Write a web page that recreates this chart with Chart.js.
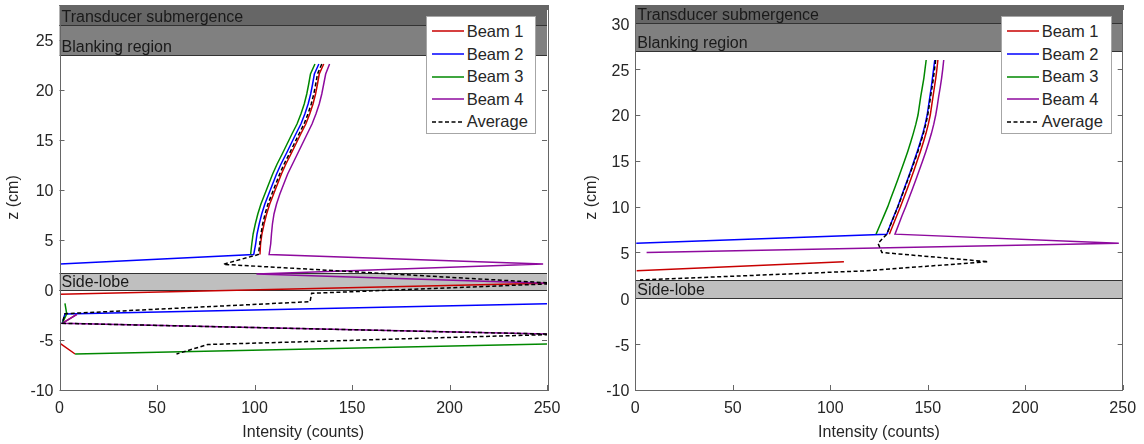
<!DOCTYPE html>
<html>
<head>
<meta charset="utf-8">
<script src="https://cdn.jsdelivr.net/npm/chart.js@4.4.1/dist/chart.umd.min.js"></script>
<style>
  body { margin:0; width:1144px; height:444px; position:relative; background:#fff; overflow:hidden; }
  canvas { position:absolute; top:0; }
  .legend { position:absolute; box-sizing:border-box; height:118px; border:1px solid #a6a6a6; background:#fff;
            font:16.5px 'Liberation Sans', Arial, sans-serif; color:#262626; padding-top:3.5px; }
  .legend .row { display:flex; align-items:center; height:22.6px; }
  .legend svg { margin-left:5px; margin-right:3px; }
</style>
</head>
<body>
<canvas id="chartL" width="572" height="444" style="left:0"></canvas>
<canvas id="chartR" width="572" height="444" style="left:572px"></canvas>
<div class="legend" id="legL" style="left:425.7px;top:15.7px;width:110px"></div>
<div class="legend" id="legR" style="left:1000.7px;top:15.7px;width:111px"></div>
<script>
// names / styles
const seriesNames = ['Beam 1', 'Beam 2', 'Beam 3', 'Beam 4', 'Average'];
const seriesColors = ['#c80000', '#0000ff', '#008800', '#8e0a9e', '#000000'];
const bandLabels = ['Transducer submergence', 'Blanking region', 'Side-lobe'];
const bandColors = ['#666666', '#808080', '#bfbfbf'];
const xTicks = [0, 50, 100, 150, 200, 250];

// ---- left panel ----
const zUpL = [22.6, 21.6, 20.6, 19.6, 18.6, 17.6, 16.6, 15.6, 14.6, 13.6, 12.6, 11.6, 10.6, 9.6, 8.6, 7.6, 6.6, 5.6, 4.6, 3.55];
const b1UpL = [135.5, 133.2, 132.3, 131.3, 130, 128.3, 126.3, 123.7, 121.2, 118.7, 116.1, 113.8, 111.8, 109.8, 107.8, 106.2, 104.9, 103.8, 103.1, 102.8];
const b2UpL = [133, 130.7, 129.8, 128.8, 127.5, 125.8, 123.8, 121.2, 118.7, 116.2, 113.6, 111.3, 109.3, 107.3, 105.3, 103.7, 102.4, 101.3, 100.6, 99.6];
const b3UpL = [131, 128.7, 127.8, 126.8, 125.5, 123.8, 121.8, 119.2, 116.7, 114.2, 111.6, 109.3, 107.3, 105.3, 103.3, 101.7, 100.4, 99.3, 98.6, 98];
const b4UpL = [138.5, 136.5, 135.5, 134.5, 133.2, 131.5, 129.5, 127, 124.5, 122, 119.5, 117, 115, 113, 111.3, 110, 109.2, 108.7, 108.3, 107.5];
const avUpL = [134.5, 132.3, 131.4, 130.4, 129.1, 127.4, 125.4, 122.8, 120.3, 117.8, 115.2, 112.9, 110.9, 108.9, 106.9, 105.4, 104.2, 103.3, 102.7, 102.0];
// near-bottom bins (null = gap)
const b1LowXL = [null, 265, 0.2, null, 8.8, 1.4, null, 0.3, 8];
const b1LowZL = [null, 0.73, -0.42, null, -2.43, -3.33, null, -5.33, -6.4];
const b2LowXL = [0.3, null, 262, 2.8, 1.4];
const b2LowZL = [2.6, null, -1.32, -2.4, -3.33];
const b3LowXL = [null, 2.8, 3.7, 1.4, null, 262, 8];
const b3LowZL = [null, -1.33, -2.4, -3.33, null, -5.35, -6.4];
const b4LowXL = [248, 101, 258, null, 9, 1.4, 256];
const b4LowZL = [2.6, 1.6, 0.63, null, -2.43, -3.33, -4.43];
const avLowXL = [84, 256, 129.3, 128.5, 2.8, 1.4, 256, 76, 60];
const avLowZL = [2.57, 0.65, -0.33, -1.17, -2.37, -3.33, -4.43, -5.45, -6.4];
const bandLoL = [26.45, 23.5, 0];
const bandHiL = [28.5, 26.45, 1.75];

// ---- right panel ----
const zUpR = [26, 25, 24, 23, 22, 21, 20, 19, 18, 17, 16, 15, 14, 13, 12, 11, 10, 9, 8, 7];
const b1UpR = [155.2, 154.7, 154.1, 153.4, 152.7, 152, 151.3, 150.3, 149.1, 147.7, 146.2, 144.6, 143, 141.3, 139.6, 137.8, 136, 134.1, 132.2, 130.3];
const b2UpR = [153.6, 153, 152.4, 151.8, 151.1, 150.4, 149.7, 148.7, 147.5, 146.1, 144.6, 143, 141.4, 139.7, 138, 136.3, 134.6, 132.7, 130.8, 129];
const b3UpR = [149.2, 148.6, 148, 147.2, 146.4, 145.7, 145, 143.9, 142.6, 141.2, 139.7, 138.1, 136.4, 134.7, 133, 131.2, 129.5, 127.5, 125.5, 123.5];
const b4UpR = [158.2, 157.7, 157.1, 156.4, 155.6, 154.9, 154.1, 153.1, 151.9, 150.5, 149, 147.4, 145.7, 144, 142.3, 140.5, 138.7, 136.8, 135, 133.2];
const avUpR = [154.05, 153.5, 152.9, 152.2, 151.45, 150.75, 150.0, 149, 147.8, 146.4, 144.9, 143.3, 141.6, 139.9, 138.2, 136.45, 134.7, 132.8, 130.9, 129.0];
const b1LowXR = [null, 107, 0.7];
const b1LowZR = [null, 4.0, 3.0];
const b2LowXR = [0.5];
const b2LowZR = [6.0];
const b3LowXR = [];
const b3LowZR = [];
const b4LowXR = [248, 5.8];
const b4LowZR = [6.0, 5.0];
const avLowXR = [124.5, 126.5, 181, 118, 2.4];
const avLowZR = [6.0, 5.0, 4.0, 3.0, 2.0];
const bandLoR = [30, 27, 0];
const bandHiR = [32, 30, 2];

const FONT = "'Liberation Sans', Arial, sans-serif";
const TXT = '#262626';

function pts(upX, upZ, lowX, lowZ) {
  const xs = upX.concat(lowX), zs = upZ.concat(lowZ);
  return xs.map((v, i) => ({x: v, y: v === null ? null : zs[i]}));
}

// bands, inward ticks and box
const framePlugin = {
  id: 'frame',
  beforeDatasetsDraw(chart, args, o) {
    const {ctx, chartArea: a, scales: {x, y}} = chart;
    ctx.save();
    ctx.strokeStyle = '#666'; ctx.lineWidth = 1;
    ctx.beginPath();
    xTicks.forEach(v => {
      const px = Math.round(x.getPixelForValue(v)) + 0.5;
      ctx.moveTo(px, a.bottom); ctx.lineTo(px, a.bottom - 5);
      ctx.moveTo(px, a.top); ctx.lineTo(px, a.top + 5);
    });
    y.ticks.forEach(t => {
      const py = Math.round(y.getPixelForValue(t.value)) + 0.5;
      ctx.moveTo(a.left, py); ctx.lineTo(a.left + 5, py);
      ctx.moveTo(a.right, py); ctx.lineTo(a.right - 5, py);
    });
    ctx.stroke();
    o.lo.forEach((lo, i) => {
      const top = Math.round(y.getPixelForValue(Math.min(o.hi[i], y.max)));
      const bot = Math.round(y.getPixelForValue(lo));
      ctx.fillStyle = bandColors[i];
      ctx.fillRect(a.left, top, a.right - a.left, bot - top);
      ctx.strokeStyle = '#333';
      ctx.beginPath();
      ctx.moveTo(a.left, top + 0.5); ctx.lineTo(a.right, top + 0.5);
      ctx.moveTo(a.left, bot + 0.5); ctx.lineTo(a.right, bot + 0.5);
      ctx.stroke();
      ctx.fillStyle = '#1a1a1a';
      ctx.font = '16px ' + FONT;
      ctx.textBaseline = 'bottom';
      ctx.fillText(bandLabels[i], a.left + 2, bot + 1);
    });
    ctx.restore();
  },
  afterDraw(chart) {
    const {ctx, chartArea: a} = chart;
    ctx.save();
    ctx.strokeStyle = '#666'; ctx.lineWidth = 1;
    ctx.strokeRect(Math.round(a.left) + 0.5, Math.round(a.top) + 0.5,
                   Math.round(a.right - a.left), Math.round(a.bottom - a.top));
    ctx.restore();
  }
};

function makeChart(id, series, zMin, zMax, lo, hi, yWidth, padRight, yTitlePad) {
  const dashes = [[], [], [], [], [4, 2.5]];
  const datasets = series.map((d, i) => ({
    label: seriesNames[i],
    data: d,
    showLine: true,
    spanGaps: false,
    borderColor: seriesColors[i],
    borderWidth: 1.5,
    borderDash: dashes[i],
    pointRadius: 0,
    tension: 0,
    order: 4 - i
  }));
  return new Chart(document.getElementById(id), {
    type: 'scatter',
    data: {datasets},
    plugins: [framePlugin],
    options: {
      responsive: false,
      devicePixelRatio: 1,
      animation: false,
      layout: {padding: {top: 5, right: padRight, left: 0, bottom: 0}},
      plugins: {legend: {display: false}, tooltip: {enabled: false}, frame: {lo, hi}},
      scales: {
        x: {
          type: 'linear', min: 0, max: 250,
          ticks: {stepSize: 50, font: {family: FONT, size: 16}, color: TXT, padding: 8.5, maxRotation: 0},
          grid: {display: false, drawTicks: false},
          border: {display: false},
          title: {display: true, text: 'Intensity (counts)', font: {family: FONT, size: 16}, color: TXT, padding: {top: 0, bottom: 2}},
          afterFit(s) { s.height = 54; s.paddingLeft = 0; s.paddingRight = 0; }
        },
        y: {
          type: 'linear', min: zMin, max: zMax,
          ticks: {stepSize: 5, includeBounds: false, font: {family: FONT, size: 16}, color: TXT, padding: 6, labelOffset: 2},
          grid: {display: false, drawTicks: false},
          border: {display: false},
          title: {display: true, text: 'z (cm)', font: {family: FONT, size: 16}, color: TXT, padding: {top: yTitlePad, bottom: 0}},
          afterFit(s) { s.width = yWidth; s.paddingTop = 0; s.paddingBottom = 0; }
        }
      }
    }
  });
}

makeChart('chartL', [
  pts(b1UpL, zUpL, b1LowXL, b1LowZL),
  pts(b2UpL, zUpL, b2LowXL, b2LowZL),
  pts(b3UpL, zUpL, b3LowXL, b3LowZL),
  pts(b4UpL, zUpL, b4LowXL, b4LowZL),
  pts(avUpL, zUpL, avLowXL, avLowZL)
], -10, 28.5, bandLoL, bandHiL, 59.5, 25, 4.4);

makeChart('chartR', [
  pts(b1UpR, zUpR, b1LowXR, b1LowZR),
  pts(b2UpR, zUpR, b2LowXR, b2LowZR),
  pts(b3UpR, zUpR, b3LowXR, b3LowZR),
  pts(b4UpR, zUpR, b4LowXR, b4LowZR),
  pts(avUpR, zUpR, avLowXR, avLowZR)
], -10, 32, bandLoR, bandHiR, 63.3, 21.3, 10);

// legends
function buildLegend(id) {
  const box = document.getElementById(id);
  box.innerHTML = seriesNames.map((n, i) => {
    const dash = i === 4 ? ' stroke-dasharray="4 2.5"' : '';
    return `<div class="row"><svg width="32" height="4"><line x1="0" y1="2" x2="32" y2="2" stroke="${seriesColors[i]}" stroke-width="1.5"${dash}/></svg><span>${n}</span></div>`;
  }).join('');
}
buildLegend('legL');
buildLegend('legR');
</script>
</body>
</html>
